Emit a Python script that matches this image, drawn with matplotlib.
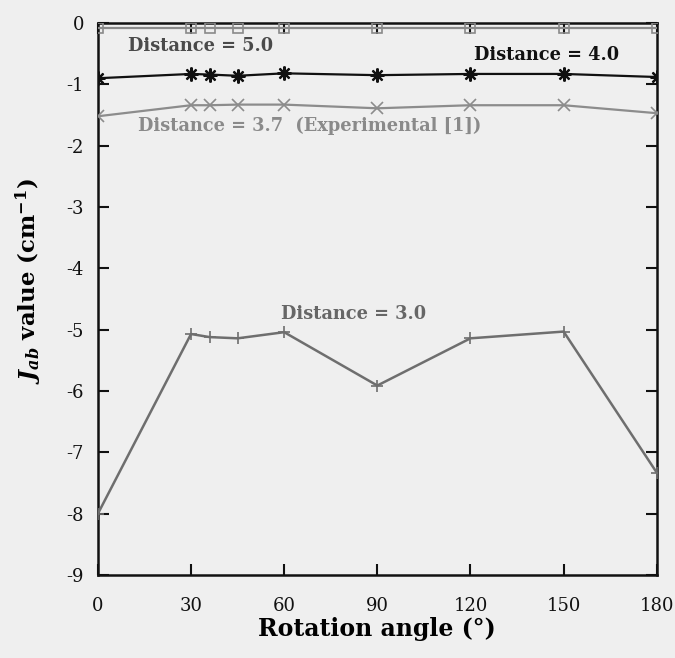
import matplotlib
matplotlib.use("Agg")
import matplotlib.pyplot as plt

plt.rcParams["mathtext.fontset"] = "dejavuserif"

# Rotation angles (degrees)
angles = [0, 30, 36, 45, 60, 90, 120, 150, 180]

# J_ab values (cm^-1) for each inter-molecular distance
j_dist50 = [-0.08, -0.08, -0.08, -0.08, -0.08, -0.08, -0.08, -0.08, -0.08]
j_dist40 = [-0.90, -0.83, -0.84, -0.86, -0.82, -0.85, -0.83, -0.83, -0.88]
j_dist37 = [-1.52, -1.34, -1.34, -1.33, -1.33, -1.39, -1.34, -1.34, -1.47]
j_dist30 = [-8.00, -5.07, -5.12, -5.14, -5.04, -5.91, -5.14, -5.03, -7.33]

xticks = [0, 30, 60, 90, 120, 150, 180]
yticks = [0, -1, -2, -3, -4, -5, -6, -7, -8, -9]

bg = "#efefef"
fig = plt.figure(figsize=(6.75, 6.58), dpi=100, facecolor=bg)
ax = fig.add_axes([0.145, 0.126, 0.828, 0.839], facecolor=bg)

ax.plot(angles, j_dist50, color="#8a8a8a", lw=1.6, marker="s", ms=7,
        mfc="none", mec="#8a8a8a", mew=1.2, zorder=3)
ax.plot(angles, j_dist40, color="#111111", lw=1.6, marker=(8, 2, 0), ms=10,
        mec="#111111", mew=1.6, zorder=3)
ax.plot(angles, j_dist37, color="#8c8c8c", lw=1.6, marker="x", ms=8,
        mec="#8c8c8c", mew=1.2, zorder=3)
ax.plot(angles, j_dist30, color="#6e6e6e", lw=1.8, marker="+", ms=8,
        mec="#6e6e6e", mew=1.2, zorder=3)

serif_bold = dict(family="DejaVu Serif", fontweight="bold", fontsize=12.8)
ax.text(9.7, -0.38, "Distance = 5.0", color="#4a4a4a", va="center", ha="left", **serif_bold)
ax.text(121, -0.52, "Distance = 4.0", color="#111111", va="center", ha="left", **serif_bold)
ax.text(13, -1.67, "Distance = 3.7  (Experimental [1])", color="#8a8a8a",
        va="center", ha="left", **serif_bold)
ax.text(59, -4.75, "Distance = 3.0", color="#666666", va="center", ha="left", **serif_bold)

ax.set_xlim(0, 180)
ax.set_ylim(-9, 0)
ax.set_xticks(xticks)
ax.set_yticks(yticks)
ax.set_xticklabels([str(t) for t in xticks], family="DejaVu Serif", fontsize=13)
ax.set_yticklabels([str(t) for t in yticks], family="DejaVu Serif", fontsize=13)
ax.tick_params(direction="in", length=8, width=1.5, top=True, right=True,
               colors="#111111", pad=10)
ax.tick_params(axis="x", pad=16)

for s in ax.spines.values():
    s.set_linewidth(1.8)
    s.set_color("#111111")

ax.set_xlabel("Rotation angle (°)", family="DejaVu Serif", fontweight="bold",
              fontsize=17, labelpad=1)
ax.set_ylabel(r"$\mathbfit{J}_{\mathbfit{ab}}$ value (cm$^{\mathbf{-1}}$)",
              family="DejaVu Serif", fontweight="bold", fontsize=16.5)
ax.yaxis.set_label_coords(-0.097, 0.533)

fig.savefig("out.png", dpi=100, facecolor=bg)
